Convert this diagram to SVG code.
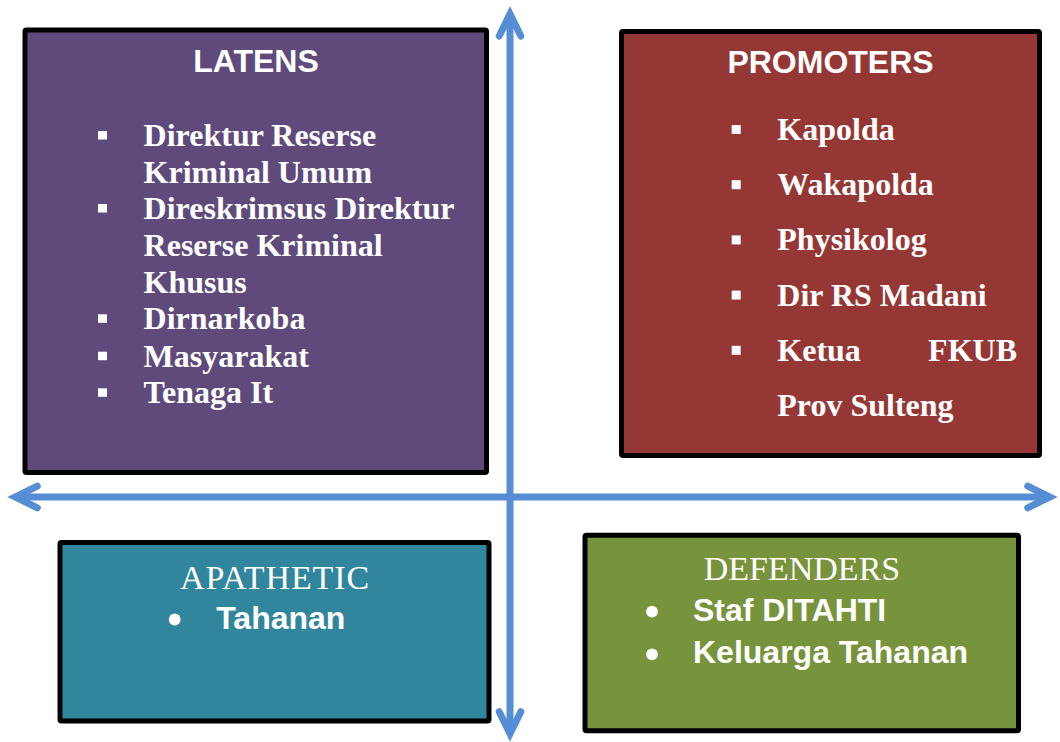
<svg xmlns="http://www.w3.org/2000/svg" width="1060" height="742" viewBox="0 0 1060 742">
<style>
.box{stroke:#000;stroke-width:5;stroke-linejoin:round}
.t-sans{font-family:"Liberation Sans",Arial,sans-serif;font-weight:bold;fill:#fff}
.t-serifb{font-family:"Liberation Serif","Times New Roman",serif;font-weight:bold;font-size:32px;fill:#fff}
.t-serif{font-family:"Liberation Serif","Times New Roman",serif;font-size:34px;fill:#fff}
.sq{fill:#fff}
.axis{stroke:#558ED5;stroke-width:7;fill:none}
</style>
<defs>
<marker id="chev" markerUnits="userSpaceOnUse" orient="auto-start-reverse" refX="0" refY="0" markerWidth="40" markerHeight="40" overflow="visible">
<path d="M-22,-10.8 L0,0 L-22,10.8" fill="none" stroke="#558ED5" stroke-width="7" stroke-linecap="round" stroke-linejoin="miter" stroke-miterlimit="10"/>
</marker>
</defs>
<rect width="1060" height="742" fill="#fff"/>

<g id="latens">
<rect class="box" x="25" y="30" width="461.5" height="442.5" rx="1.5" fill="#604A7B"/>
<text class="t-sans" x="256" y="71.7" font-size="32" text-anchor="middle">LATENS</text>
<rect class="sq" x="98" y="131" width="9" height="8.5"/>
<rect class="sq" x="98" y="204" width="9" height="8.5"/>
<rect class="sq" x="98" y="314.3" width="9" height="8.5"/>
<rect class="sq" x="98" y="351.7" width="9" height="8.5"/>
<rect class="sq" x="98" y="388.3" width="9" height="8.5"/>
<text class="t-serifb" x="143.6" y="146">Direktur Reserse</text>
<text class="t-serifb" x="143.6" y="182.5">Kriminal Umum</text>
<text class="t-serifb" x="143.6" y="219">Direskrimsus Direktur</text>
<text class="t-serifb" x="143.6" y="255.7">Reserse Kriminal</text>
<text class="t-serifb" x="143.6" y="292.7">Khusus</text>
<text class="t-serifb" x="143.6" y="329.3">Dirnarkoba</text>
<text class="t-serifb" x="143.6" y="366.5">Masyarakat</text>
<text class="t-serifb" x="143.6" y="403.3">Tenaga It</text>
</g>

<g id="promoters">
<rect class="box" x="621.5" y="31.5" width="418" height="424" rx="1.5" fill="#953735"/>
<text class="t-sans" x="830.5" y="72.7" font-size="32" text-anchor="middle">PROMOTERS</text>
<rect class="sq" x="731.7" y="125" width="9" height="9"/>
<rect class="sq" x="731.7" y="180.2" width="9" height="9"/>
<rect class="sq" x="731.7" y="235.4" width="9" height="9"/>
<rect class="sq" x="731.7" y="290.6" width="9" height="9"/>
<rect class="sq" x="731.7" y="345.8" width="9" height="9"/>
<text class="t-serifb" x="777.3" y="140">Kapolda</text>
<text class="t-serifb" x="777.3" y="195.2">Wakapolda</text>
<text class="t-serifb" x="777.3" y="250.4">Physikolog</text>
<text class="t-serifb" x="777.3" y="305.6">Dir RS Madani</text>
<text class="t-serifb" x="777.3" y="360.8">Ketua</text>
<text class="t-serifb" x="1017" y="360.8" text-anchor="end">FKUB</text>
<text class="t-serifb" x="777.3" y="416">Prov Sulteng</text>
</g>

<g id="apathetic">
<rect class="box" x="60" y="542.5" width="429" height="178.5" rx="1.5" fill="#31859C"/>
<text class="t-serif" x="275" y="589.3" text-anchor="middle" letter-spacing="0.9">APATHETIC</text>
<circle cx="174.7" cy="619.5" r="5.9" fill="#fff"/>
<text class="t-sans" x="216.2" y="629.3" font-size="32">Tahanan</text>
</g>

<g id="defenders">
<rect class="box" x="585" y="535.2" width="433.5" height="195.6" rx="1.5" fill="#77933C"/>
<text class="t-serif" x="802" y="580" text-anchor="middle">DEFENDERS</text>
<circle cx="652" cy="611.7" r="5.9" fill="#fff"/>
<circle cx="652" cy="654.3" r="5.9" fill="#fff"/>
<text class="t-sans" x="693" y="620.7" font-size="32">Staf DITAHTI</text>
<text class="t-sans" x="693" y="663.3" font-size="32">Keluarga Tahanan</text>
</g>

<g id="connectors">
<line class="axis" x1="510" y1="14" x2="510" y2="733.7" marker-start="url(#chev)" marker-end="url(#chev)"/>
<line class="axis" x1="15.3" y1="497" x2="1049.7" y2="497" marker-start="url(#chev)" marker-end="url(#chev)"/>
</g>
</svg>
